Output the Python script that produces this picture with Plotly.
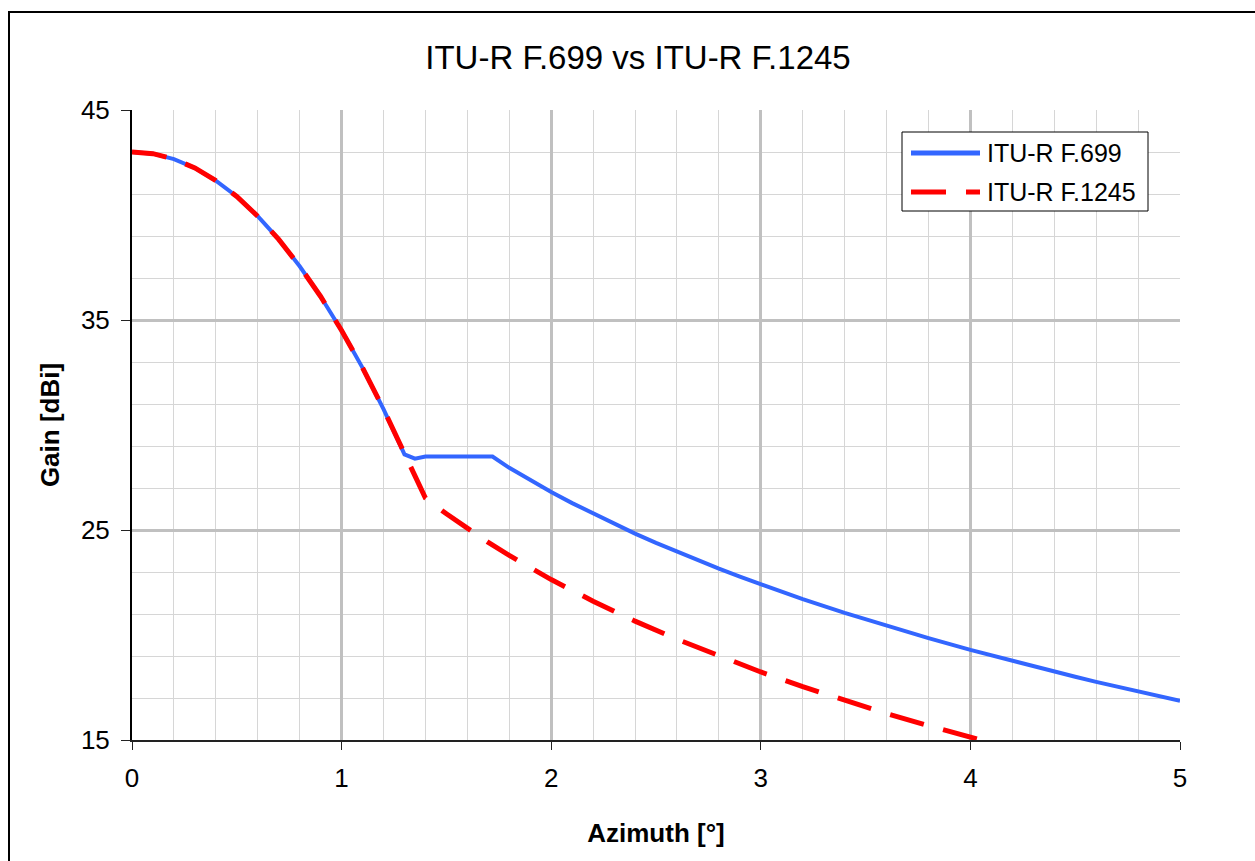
import plotly.graph_objects as go

# Azimuth (deg) and gain (dBi)
az_699 = [0.0, 0.1, 0.2, 0.3, 0.4, 0.5, 0.6, 0.7, 0.8, 0.9, 1.0, 1.1, 1.2, 1.3,
          1.35, 1.4, 1.5, 1.6, 1.7, 1.72, 1.8, 1.9, 2.0, 2.1, 2.2, 2.3, 2.4, 2.5,
          2.6, 2.7, 2.8, 2.9, 3.0, 3.2, 3.4, 3.5, 3.6, 3.8, 4.0, 4.2, 4.4, 4.5,
          4.6, 4.8, 5.0]
gain_699 = [43.0, 42.92, 42.66, 42.24, 41.64, 40.88, 39.94, 38.84, 37.56, 36.12,
            34.5, 32.72, 30.76, 28.6, 28.4, 28.5, 28.5, 28.5, 28.5, 28.5, 27.96,
            27.37, 26.81, 26.28, 25.78, 25.3, 24.83, 24.39, 23.97, 23.56, 23.16,
            22.78, 22.41, 21.71, 21.05, 20.74, 20.43, 19.85, 19.29, 18.76, 18.25,
            18.01, 17.77, 17.31, 16.87]

az_1245 = [0.0, 0.1, 0.2, 0.3, 0.4, 0.5, 0.6, 0.7, 0.8, 0.9, 1.0, 1.1, 1.2, 1.3,
           1.4, 1.5, 1.6, 1.7, 1.8, 1.9, 2.0, 2.2, 2.4, 2.6, 2.8, 3.0, 3.2, 3.4,
           3.5, 3.6, 3.8, 4.0, 4.2, 4.4]
gain_1245 = [43.0, 42.92, 42.66, 42.24, 41.64, 40.88, 39.94, 38.84, 37.56, 36.12,
             34.5, 32.72, 30.76, 28.6, 26.52, 25.77, 25.07, 24.41, 23.79, 23.2,
             22.64, 21.61, 20.66, 19.8, 18.99, 18.24, 17.54, 16.88, 16.57, 16.26,
             15.68, 15.12, 14.59, 14.09]

series_names = ["ITU-R F.699", "ITU-R F.1245"]
series_colors = ["#3366ff", "#ff0000"]
title_text = "ITU-R F.699 vs ITU-R F.1245"
x_title = "Azimuth [°]"
y_title = "Gain [dBi]"

FONT = "Arial, 'Liberation Sans', sans-serif"

fig = go.Figure()
fig.add_trace(go.Scatter(x=az_699, y=gain_699, mode="lines", name=series_names[0],
                         line=dict(color=series_colors[0], width=4)))
fig.add_trace(go.Scatter(x=az_1245, y=gain_1245, mode="lines", name=series_names[1],
                         line=dict(color=series_colors[1], width=5, dash="35px,20px")))

L, R, T, B = 132, 75, 110, 121
W, H = 1255, 861
pw, ph = W - L - R, H - T - B


def px_x(p):
    return (p - L) / pw


def px_y(p):
    return (T + ph - p) / ph


fig.update_layout(
    width=W, height=H,
    margin=dict(l=L, r=R, t=T, b=B, pad=0),
    paper_bgcolor="white", plot_bgcolor="white",
    font=dict(family=FONT, color="black", size=26),
    title=dict(text=title_text, font=dict(size=33, family=FONT, color="black"),
               x=638 / W, xanchor="center", y=1 - 57 / H, yanchor="middle",
               xref="container", yref="container"),
    showlegend=False,
)

fig.update_xaxes(
    range=[0, 5], dtick=1, tick0=0,
    showgrid=True, gridcolor="#c0c0c0", gridwidth=3,
    minor=dict(dtick=0.2, showgrid=True, gridcolor="#d6d6d6", gridwidth=1),
    showline=True, linecolor="#222222", linewidth=2,
    ticks="outside", ticklen=8, tickwidth=1, tickcolor="#222222",
    tickfont=dict(size=26), ticklabelstandoff=6, zeroline=False,
    title=dict(text=f"<b>{x_title}</b>", font=dict(size=26), standoff=32),
)
fig.update_yaxes(
    range=[15, 45], dtick=10, tick0=15,
    showgrid=True, gridcolor="#c0c0c0", gridwidth=3,
    minor=dict(dtick=2, tick0=15, showgrid=True, gridcolor="#d6d6d6", gridwidth=1),
    showline=True, linecolor="black", linewidth=2,
    ticks="outside", ticklen=9, tickwidth=1, tickcolor="#222222",
    tickfont=dict(size=26), ticklabelstandoff=6, zeroline=False,
    title=dict(text=f"<b>{y_title}</b>", font=dict(size=26), standoff=14),
)

# outer chart frame (cut off at right and bottom as in the reference)
fig.add_shape(type="rect", xref="paper", yref="paper",
              x0=px_x(9), x1=px_x(W + 10), y0=px_y(H + 10), y1=px_y(12),
              line=dict(color="black", width=2), fillcolor="rgba(0,0,0,0)",
              layer="below")

# legend box drawn like the reference (long line samples)
fig.add_shape(type="rect", xref="paper", yref="paper",
              x0=px_x(902), x1=px_x(1148), y0=px_y(211), y1=px_y(132),
              line=dict(color="black", width=1), fillcolor="white", layer="above")
legend_rows = [153, 192]
legend_dash = ["solid", "35px,20px"]
legend_width = [5, 5]
for i in range(2):
    fig.add_shape(type="line", xref="paper", yref="paper",
                  x0=px_x(911), x1=px_x(980), y0=px_y(legend_rows[i]), y1=px_y(legend_rows[i]),
                  line=dict(color=series_colors[i], width=legend_width[i], dash=legend_dash[i]),
                  layer="above")
    fig.add_annotation(xref="paper", yref="paper", x=px_x(985), y=px_y(legend_rows[i]),
                       text=series_names[i], showarrow=False, xanchor="left", yanchor="middle",
                       font=dict(size=25, family=FONT, color="black"))

fig.write_html("out.html")
